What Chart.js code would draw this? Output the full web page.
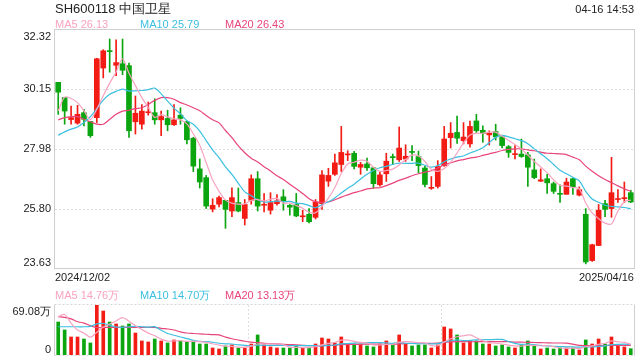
<!DOCTYPE html>
<html>
<head>
<meta charset="utf-8">
<script src="https://cdn.jsdelivr.net/npm/chart.js@4/dist/chart.umd.min.js"></script>
<style>
  body { margin: 0; background: #fff; font-family: "Liberation Sans", Arial, sans-serif; }
  #wrap { position: relative; width: 640px; height: 360px; overflow: hidden; }
  canvas { position: absolute; left: 0; }
  .txt { position: absolute; white-space: nowrap; font-size: 11px; line-height: 12px; }
</style>
</head>
<body>
<div id="wrap">
  <canvas id="kline" width="640" height="280" style="top:0"></canvas>
  <canvas id="vol" width="640" height="60" style="top:300px"></canvas>
  <div class="txt" style="left:55px;top:2px;font-size:13px;line-height:14px;color:#222">SH600118 中国卫星</div>
  <div class="txt" style="right:6px;top:3px;color:#222">04-16 14:53</div>
  <div class="txt" style="left:55px;top:18px;color:#f7a3c0">MA5 26.13</div>
  <div class="txt" style="left:140px;top:18px;color:#3bbfe0">MA10 25.79</div>
  <div class="txt" style="left:225px;top:18px;color:#e8457a">MA20 26.43</div>
  <div class="txt" style="left:55px;top:271px;color:#222">2024/12/02</div>
  <div class="txt" style="right:6px;top:271px;color:#222">2025/04/16</div>
  <div class="txt" style="left:55px;top:289px;color:#f7a3c0">MA5 14.76万</div>
  <div class="txt" style="left:140px;top:289px;color:#3bbfe0">MA10 14.70万</div>
  <div class="txt" style="left:225px;top:289px;color:#e8457a">MA20 13.13万</div>
</div>
<script>
// 交易日 (2024/12 - 2025/04)
const dec = [2,3,4,5,6,9,10,11,12,13,16,17,18,19,20,23,24,25,26,27,30,31];
const jan = [2,3,6,7,8,9,10,13,14,15,16,17,20,21,22,23,24,27];
const feb = [5,6,7,10,11,12,13,14,17,18,19,20,21,24,25,26,27,28];
const mar = [3,4,5,6,7,10,11,12,13,14,17,18,19,20,21,24,25,26,27,28,31];
const apr = [1,2,3,7,8,9,10,11,14,15,16];

const opens = [30.41,29.85,29.05,28.92,29.30,28.98,29.12,30.93,31.56,31.03,
  31.09,31.02,28.97,28.88,29.30,29.30,29.04,29.09,28.86,29.21,
  28.97,28.37,27.25,26.93,25.78,25.96,26.10,25.71,26.02,25.44,
  26.10,26.89,25.92,25.74,25.98,26.23,25.92,25.95,25.50,25.59,
  25.48,25.98,26.80,27.05,27.41,27.76,27.82,27.31,27.43,27.29,
  26.67,27.07,27.68,27.58,27.61,27.87,27.70,27.28,26.54,26.61,
  27.37,28.39,28.58,28.28,28.16,29.00,28.66,28.49,28.61,28.42,
  28.06,27.77,27.79,27.76,27.21,26.80,26.89,26.71,26.34,26.32,
  26.89,26.29,25.59,23.90,24.45,25.98,25.80,26.13,26.16,26.38];
const highs = [30.41,29.85,29.54,29.57,29.42,28.98,31.29,31.60,31.99,31.96,
  31.99,31.11,29.91,29.60,29.69,29.81,29.36,29.39,29.60,29.48,
  29.00,28.40,27.61,27.01,26.16,26.26,26.10,26.56,26.55,26.13,
  27.03,27.15,26.35,26.38,26.31,26.49,25.95,26.35,25.74,25.80,
  26.13,27.19,27.27,27.79,28.80,27.91,27.89,27.49,27.64,27.29,
  27.13,27.82,27.79,28.78,28.13,28.10,27.90,27.35,26.97,27.55,
  28.80,28.94,29.18,28.94,28.99,29.24,28.82,28.64,28.88,28.46,
  28.10,28.10,28.34,27.85,27.61,27.25,27.05,26.77,26.67,26.91,
  26.91,26.59,25.80,24.50,25.95,26.10,27.67,26.49,26.77,26.47];
const lows = [29.24,28.88,28.88,28.88,28.82,28.40,28.94,30.57,30.78,30.65,
  30.69,28.40,28.52,28.70,29.21,28.88,28.46,28.64,28.84,28.88,
  28.16,27.15,26.55,25.80,25.68,25.86,25.08,25.50,25.68,25.20,
  25.96,25.71,25.68,25.60,25.92,25.74,25.56,25.50,25.32,25.28,
  25.42,25.77,26.61,27.01,27.15,27.55,27.25,27.05,27.19,26.55,
  26.62,26.79,27.41,27.52,27.52,27.55,27.11,26.59,26.50,26.55,
  27.34,28.01,28.18,28.16,28.04,28.58,28.22,28.12,28.30,28.01,
  27.67,27.61,27.67,26.61,26.89,26.79,26.35,26.35,26.02,26.32,
  26.32,26.26,23.78,23.87,24.45,25.50,25.48,26.02,26.02,26.02];
const closes = [30.05,29.36,29.12,29.24,29.06,28.46,31.27,31.56,31.53,31.13,
  30.85,28.64,29.28,29.36,29.32,29.04,29.16,28.86,29.04,29.09,
  28.31,27.35,26.77,25.89,25.92,26.20,25.77,26.20,25.71,25.95,
  26.89,25.89,25.95,26.02,26.08,26.08,25.85,25.53,25.52,25.32,
  26.04,27.03,27.01,27.47,27.85,27.78,27.34,27.41,27.29,26.71,
  27.03,27.53,27.66,28.01,27.71,27.85,27.37,26.68,26.56,27.34,
  28.34,28.55,28.37,28.41,28.80,28.64,28.54,28.55,28.42,28.10,
  27.85,27.79,27.70,27.31,26.93,26.85,26.74,26.43,26.32,26.77,
  26.59,26.49,23.85,24.48,25.74,25.77,26.38,26.16,26.20,26.04];

const ma5 = [29.36,29.87,29.82,29.67,29.37,29.05,29.43,29.92,30.38,30.79,
  31.27,30.74,30.29,29.85,29.49,29.13,29.23,29.15,29.08,29.04,
  28.89,28.53,28.11,27.48,26.85,26.43,26.11,26.00,25.96,25.97,
  26.10,26.13,26.08,26.14,26.17,26.00,26.00,25.91,25.81,25.66,
  25.65,25.89,26.18,26.57,27.08,27.43,27.49,27.57,27.53,27.31,
  27.16,27.19,27.24,27.39,27.59,27.75,27.72,27.52,27.23,27.16,
  27.26,27.49,27.83,28.20,28.49,28.55,28.55,28.59,28.59,28.45,
  28.29,28.14,27.97,27.75,27.52,27.32,27.11,26.85,26.65,26.62,
  26.57,26.52,26.00,25.64,25.43,25.27,25.24,25.71,26.05,26.11];
const ma10 = [28.48,28.60,28.70,28.78,28.94,29.16,29.45,29.76,29.97,30.08,
  30.16,30.09,30.10,30.11,30.14,30.20,29.99,29.72,29.47,29.26,
  29.01,28.88,28.63,28.28,27.94,27.66,27.32,27.05,26.72,26.41,
  26.27,26.12,26.04,26.05,26.07,26.05,26.06,26.00,25.98,25.91,
  25.83,25.94,26.05,26.19,26.37,26.54,26.69,26.88,27.05,27.19,
  27.29,27.34,27.41,27.46,27.45,27.45,27.46,27.38,27.31,27.37,
  27.51,27.61,27.68,27.72,27.83,27.91,28.02,28.21,28.40,28.47,
  28.42,28.35,28.28,28.17,27.98,27.80,27.62,27.41,27.20,27.07,
  26.94,26.81,26.43,26.15,26.03,25.92,25.88,25.86,25.84,25.79];
const ma20 = [29.04,29.12,29.16,29.16,29.06,28.97,28.88,28.88,29.06,29.24,
  29.36,29.39,29.45,29.48,29.60,29.75,29.85,29.85,29.79,29.67,
  29.58,29.48,29.37,29.20,29.04,28.93,28.65,28.39,28.09,27.84,
  27.64,27.50,27.33,27.17,27.00,26.86,26.69,26.52,26.35,26.16,
  26.05,26.03,26.04,26.12,26.22,26.30,26.38,26.44,26.52,26.55,
  26.56,26.64,26.73,26.83,26.91,27.00,27.07,27.13,27.18,27.28,
  27.40,27.47,27.54,27.59,27.64,27.68,27.74,27.80,27.85,27.92,
  27.96,27.98,27.98,27.94,27.91,27.86,27.82,27.81,27.80,27.77,
  27.68,27.58,27.35,27.16,27.00,26.86,26.75,26.63,26.52,26.43];

// 成交量 (万)
const volumes = [45.6,34.6,24.9,24.9,22.1,16.6,69.08,60.8,45.6,42.9,
  40.1,42.9,30.4,19.4,18.0,22.1,19.4,16.6,20.8,19.4,
  18.0,19.4,15.2,15.2,9.7,8.3,12.5,13.9,9.7,9.7,
  15.2,27.7,13.9,11.1,9.7,9.7,9.7,12.5,9.7,9.7,
  15.2,23.5,22.1,16.6,24.9,15.2,15.2,15.2,12.5,11.1,
  15.2,19.4,15.2,27.7,15.2,12.5,13.9,13.9,9.7,13.9,
  38.7,36.0,27.7,16.6,19.4,19.4,15.2,15.2,12.5,13.9,
  11.1,9.7,13.9,19.4,12.5,8.3,9.7,8.3,9.7,9.7,
  9.7,6.9,20.8,15.2,22.1,15.2,24.9,13.9,11.1,8.7];
const volMa5 = [53.0,56.0,44.0,34.5,30.4,24.6,31.5,38.7,42.8,47.0,
  51.7,46.5,40.4,35.1,30.2,26.6,21.9,19.1,19.4,19.7,
  18.8,18.8,18.6,17.4,15.5,13.6,12.2,11.9,10.8,10.8,
  12.2,15.2,15.2,15.5,15.5,14.4,10.8,10.5,10.3,10.3,
  11.4,14.1,16.0,17.4,20.5,20.5,18.8,17.4,16.6,13.8,
  13.8,14.7,14.7,17.7,18.5,18.0,16.9,16.6,13.0,12.8,
  18.0,22.4,25.2,26.6,27.7,23.8,19.7,17.2,16.3,15.2,
  13.6,12.5,12.2,13.6,13.3,12.8,12.8,11.6,9.7,9.1,
  9.4,8.9,11.4,12.5,14.9,16.0,19.6,18.3,17.4,14.76];
const volMa10 = [39.0,39.0,39.0,39.0,39.0,39.5,43.0,43.5,41.0,38.7,
  38.2,39.0,39.5,39.0,38.6,39.1,34.2,29.7,27.3,24.9,
  22.7,20.4,18.8,18.4,17.6,16.2,15.5,15.2,14.1,13.2,
  12.9,13.7,13.6,13.2,13.2,13.3,13.0,12.9,12.9,12.9,
  12.9,12.5,13.3,13.8,15.4,15.9,16.5,16.7,17.0,17.2,
  17.2,16.7,16.1,17.2,16.2,15.9,15.8,15.7,15.4,15.7,
  18.0,19.7,20.9,19.8,20.2,20.9,21.1,21.2,21.5,21.5,
  18.7,16.1,14.7,15.0,14.3,13.2,12.6,11.9,11.7,11.2,
  11.1,10.8,11.5,11.1,12.0,12.7,14.3,14.8,15.0,14.70];
const volMa20 = [53.0,52.0,50.0,46.0,44.0,40.5,37.8,38.2,38.2,38.2,
  38.2,38.2,38.2,38.2,38.2,38.2,36.8,35.9,34.5,32.0,
  30.4,29.7,29.2,28.7,28.1,27.7,24.8,22.5,20.7,19.0,
  17.8,17.0,16.2,15.8,15.4,14.8,14.3,14.1,13.5,13.0,
  12.9,13.1,13.4,13.5,14.3,14.6,14.7,14.8,15.0,15.0,
  15.0,14.6,14.7,15.5,15.8,15.9,16.1,16.2,16.2,16.4,
  17.6,18.2,18.5,18.5,18.2,18.4,18.4,18.4,18.4,18.6,
  18.4,17.9,17.8,17.4,17.3,17.0,16.8,16.6,16.6,16.3,
  14.9,13.4,13.1,13.0,13.2,13.0,13.4,13.4,13.3,13.13];

const priceTicks = [32.32, 30.15, 27.98, 25.80, 23.63];
const volTicks = [69.08, 0];
const volTickLabels = ['69.08万', '0'];

const UP = '#f21c14', DOWN = '#0aa50f';
const C_MA5 = '#f7a3c0', C_MA10 = '#3bbfe0', C_MA20 = '#e8457a';

const pad2 = n => String(n).padStart(2, '0');
const labels = [];
[[2024, 12, dec], [2025, 1, jan], [2025, 2, feb], [2025, 3, mar], [2025, 4, apr]].forEach(([y, m, days]) => {
  days.forEach(d => labels.push(`${y}/${pad2(m)}/${pad2(d)}`));
});

const candleColors = closes.map((c, i) => c >= opens[i] ? UP : DOWN);

// Dibuja rejilla, marco y etiquetas del eje con la escala de Chart.js
const framePlugin = {
  id: 'frame',
  beforeDatasetsDraw(chart, args, opts) {
    const { ctx, chartArea: a, scales: { y } } = chart;
    ctx.save();
    ctx.lineWidth = 1;
    ctx.strokeStyle = '#dedede';
    ctx.setLineDash([2, 2]);
    opts.grid.forEach(v => {
      const py = Math.round(y.getPixelForValue(v)) + 0.5;
      ctx.beginPath(); ctx.moveTo(a.left, py); ctx.lineTo(a.right, py); ctx.stroke();
    });
    (opts.vgrid || []).forEach(f => {
      const px = Math.round(a.left + a.width * f) + 0.5;
      ctx.beginPath(); ctx.moveTo(px, a.top); ctx.lineTo(px, a.bottom); ctx.stroke();
    });
    ctx.setLineDash([]);
    ctx.strokeStyle = '#cfcfcf';
    const l = Math.round(a.left) - 0.5, r = Math.round(a.right) + 0.5;
    const t = Math.round(a.top) - 0.5, b = Math.round(a.bottom) + 0.5;
    if (opts.box) {
      ctx.strokeRect(l, t, r - l, b - t);
    } else {
      ctx.beginPath(); ctx.moveTo(l, t); ctx.lineTo(l, b); ctx.moveTo(r, t); ctx.lineTo(r, b); ctx.stroke();
      ctx.strokeStyle = '#d6d6d6';
      ctx.setLineDash([2, 2]);
      ctx.beginPath(); ctx.moveTo(l, t); ctx.lineTo(r, t); ctx.moveTo(l, b); ctx.lineTo(r, b); ctx.stroke();
    }
    ctx.restore();
  },
  afterDraw(chart, args, opts) {
    const { ctx, chartArea: a, scales: { y } } = chart;
    ctx.save();
    ctx.font = '11px "Liberation Sans", Arial, sans-serif';
    ctx.fillStyle = '#222';
    ctx.textAlign = 'right';
    opts.ticks.forEach((v, i) => {
      const py = y.getPixelForValue(v);
      ctx.textBaseline = i === 0 ? 'top' : (i === opts.ticks.length - 1 ? 'bottom' : 'middle');
      ctx.fillText(opts.labels[i], a.left - 4, py + (i === 0 ? 1 : 0));
    });
    ctx.restore();
  }
};

const lineDs = (data, color) => ({
  type: 'line', data, borderColor: color, borderWidth: 1.2,
  pointRadius: 0, tension: 0.3, order: 0
});

new Chart(document.getElementById('kline'), {
  type: 'bar',
  data: {
    labels,
    datasets: [
      { data: lows.map((l, i) => [l, highs[i]]), backgroundColor: candleColors,
        barThickness: 1, grouped: false, order: 2 },
      { data: opens.map((o, i) => [o, closes[i]]), backgroundColor: candleColors,
        barThickness: 5, minBarLength: 1, grouped: false, order: 1 },
      lineDs(ma5, C_MA5),
      lineDs(ma10, C_MA10),
      lineDs(ma20, C_MA20)
    ]
  },
  options: {
    responsive: false, animation: false, devicePixelRatio: 1,
    layout: { padding: { left: 55, right: 6, top: 30, bottom: 12 } },
    scales: {
      x: { display: false, offset: true },
      y: { display: false, min: 23.63, max: 32.32 }
    },
    plugins: {
      legend: { display: false }, tooltip: { enabled: false },
      frame: { box: true, grid: priceTicks.slice(1, -1), ticks: priceTicks,
               labels: priceTicks.map(v => v.toFixed(2)) }
    }
  },
  plugins: [framePlugin]
});

new Chart(document.getElementById('vol'), {
  type: 'bar',
  data: {
    labels,
    datasets: [
      { data: volumes, backgroundColor: candleColors, barThickness: 3, grouped: false, order: 1 },
      lineDs(volMa5, C_MA5),
      lineDs(volMa10, C_MA10),
      lineDs(volMa20, C_MA20)
    ]
  },
  options: {
    responsive: false, animation: false, devicePixelRatio: 1,
    layout: { padding: { left: 55, right: 6, top: 5, bottom: 5 } },
    scales: {
      x: { display: false, offset: true },
      y: { display: false, min: 0, max: 69.08 }
    },
    plugins: {
      legend: { display: false }, tooltip: { enabled: false },
      frame: { box: false, grid: [], vgrid: [1 / 3, 2 / 3], ticks: volTicks, labels: volTickLabels }
    }
  },
  plugins: [framePlugin]
});
</script>
</body>
</html>
